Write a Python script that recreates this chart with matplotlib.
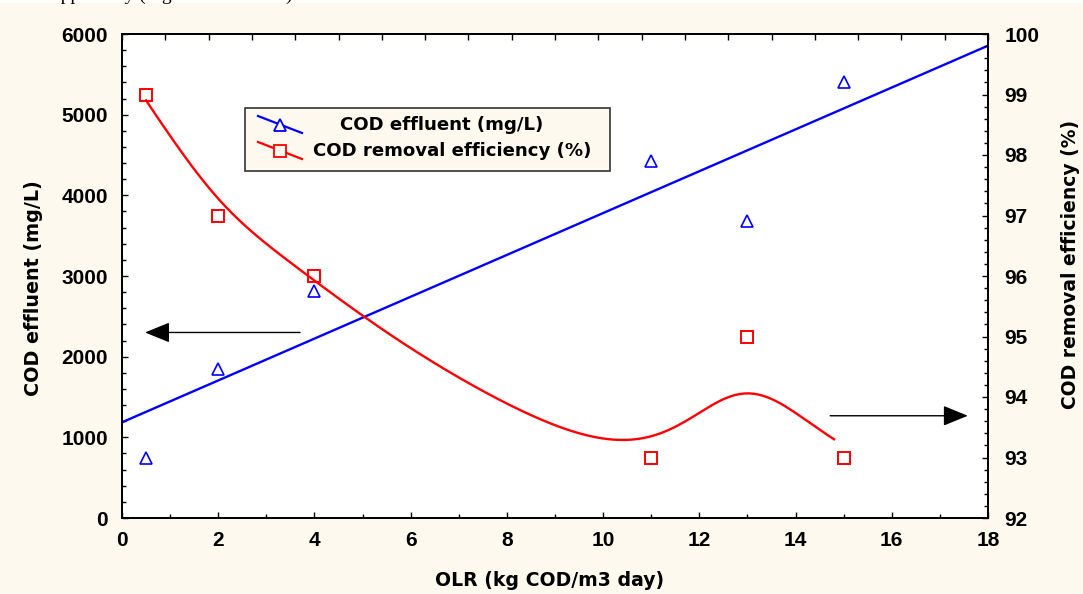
import numpy as np
import matplotlib
matplotlib.use("Agg")
import matplotlib.pyplot as plt
from matplotlib.patches import Rectangle
from matplotlib.lines import Line2D
from matplotlib.ticker import MultipleLocator

# Organic loading rate (kg COD/m3 day)
olr = [0.5, 2, 4, 11, 13, 15]
# Effluent COD (mg/L), left axis
cod_effluent = [750, 1850, 2820, 4420, 3680, 5400]
# COD removal efficiency (%), right axis
removal_eff = [99, 97, 96, 93, 95, 93]

x_ticks = [0, 2, 4, 6, 8, 10, 12, 14, 16, 18]
left_ticks = [0, 1000, 2000, 3000, 4000, 5000, 6000]
right_ticks = [92, 93, 94, 95, 96, 97, 98, 99, 100]

BG = "#fef9ee"
W, H = 1083, 594
LABEL_FONT = ["DejaVu Sans"]

plt.rcParams["font.family"] = ["Liberation Sans", "DejaVu Sans"]
plt.rcParams["font.weight"] = "bold"

fig = plt.figure(figsize=(W / 100, H / 100), dpi=100, facecolor=BG)


def px(x, y):
    """Pixel position (from top-left) to figure fraction."""
    return x / W, 1 - y / H


def dwls(xs, ys, xq, eps=3.0):
    """Distance-weighted least squares: local quadratic at each query point."""
    xs = np.asarray(xs, float)
    ys = np.asarray(ys, float)
    out = []
    for q in xq:
        d = xs - q
        w = np.sqrt(1.0 / (d ** 2 + eps))
        A = np.vander(d, 3) * w[:, None]
        coef, *_ = np.linalg.lstsq(A, ys * w, rcond=None)
        out.append(coef[-1])
    return np.array(out)


# thin white strip with the clipped line of page text above the chart
fig.patches.append(Rectangle((0, 1 - 3 / H), 1, 3 / H, transform=fig.transFigure,
                             facecolor="white", edgecolor="none", zorder=0))
fig.text(*px(52, 0), "apparently (Fig. 5 and Table 3).", family="Liberation Serif",
         fontweight="normal", fontsize=14, va="baseline", ha="left", color="black")

ax = fig.add_axes([122 / W, 76 / H, 866 / W, 484 / H])
ax.set_facecolor("white")
ax2 = ax.twinx()

x = np.asarray(olr, dtype=float)

# linear trend of effluent COD
b = np.polyfit(x, cod_effluent, 1)
xl = np.linspace(0, 18, 100)
ax.plot(xl, np.polyval(b, xl), color="blue", lw=1.7, zorder=2)
ax.plot(x, cod_effluent, linestyle="none", marker="^", ms=8.5, mfc="none",
        mec="blue", mew=1.2, zorder=3)

# smoothed trend of removal efficiency
xr = np.linspace(x.min(), 14.8, 300)
ax2.plot(xr, dwls(x, removal_eff, xr), color="red", lw=1.7, zorder=2)
ax2.plot(x, removal_eff, linestyle="none", marker="s", ms=8.5, mfc="none",
         mec="red", mew=1.4, zorder=3)

ax.set_xlim(0, 18)
ax.set_ylim(0, 6000)
ax2.set_ylim(92, 100)
ax.set_xticks(x_ticks)
ax.set_yticks(left_ticks)
ax2.set_yticks(right_ticks)
ax.xaxis.set_minor_locator(MultipleLocator(1))
ax.yaxis.set_minor_locator(MultipleLocator(200))
ax2.yaxis.set_minor_locator(MultipleLocator(0.2))

for a in (ax, ax2):
    for s in a.spines.values():
        s.set_linewidth(1.3)
    a.tick_params(which="both", direction="in", width=1.0, labelsize=15)
    a.tick_params(which="major", length=4)
    a.tick_params(which="minor", length=3)
ax.tick_params(axis="x", pad=9)
ax.tick_params(axis="y", pad=10)
ax2.tick_params(axis="y", pad=12)

# top frame carries its own evenly spaced, unlabelled tick marks
top = ax.secondary_xaxis("top", functions=(lambda v: v * 20 / 18, lambda v: v * 18 / 20))
top.set_xticks(np.arange(0, 21))
top.tick_params(direction="in", length=4, width=1.0, labeltop=False)
top.spines["top"].set_linewidth(1.3)

fig.text(*px(34, 288), "COD effluent (mg/L)", rotation=90, ha="center",
         va="center", fontsize=13.8, family=LABEL_FONT)
fig.text(*px(1070, 264), "COD removal efficiency (%)", rotation=90, ha="center",
         va="center", fontsize=13.5, family=LABEL_FONT)
fig.text(*px(550, 580), "OLR (kg COD/m3 day)", ha="center", va="center",
         fontsize=13.6, family=LABEL_FONT)

# direction arrows pointing to each axis
arrow_kw = dict(arrowstyle="-|>,head_length=1.1,head_width=0.45", color="black",
                lw=1.0, shrinkA=0, shrinkB=0, mutation_scale=14)
ax.annotate("", xy=(0.48, 2300), xytext=(3.7, 2300), arrowprops=arrow_kw, zorder=4)
ax2.annotate("", xy=(17.58, 93.69), xytext=(14.72, 93.69), arrowprops=arrow_kw,
             zorder=4)

# legend with sloped sample lines
x0, y0 = px(245, 171)
x1, y1 = px(610, 108)
fig.patches.append(Rectangle((x0, y0), x1 - x0, y1 - y0, transform=fig.transFigure,
                             facecolor=BG, edgecolor="#333333", lw=1.2, zorder=5))
for (ya, yb), col, mk, label, tx in [((116, 133), "blue", "^", "COD effluent (mg/L)", 340),
                                     ((142, 159), "red", "s", "COD removal efficiency (%)", 313)]:
    (lx0, ly0), (lx1, ly1) = px(258, ya), px(302, yb)
    fig.lines.append(Line2D([lx0, lx1], [ly0, ly1], transform=fig.transFigure,
                            color=col, lw=1.6, zorder=6))
    mx, my = px(280, (ya + yb) / 2)
    fig.lines.append(Line2D([mx], [my], transform=fig.transFigure, marker=mk,
                            ms=8.5, mfc=BG, mec=col, mew=1.3, linestyle="none",
                            zorder=7))
    tx_, ty_ = px(tx, (ya + yb) / 2 + 1)
    fig.text(tx_, ty_, label, ha="left", va="center", fontsize=13.1,
             family=LABEL_FONT, zorder=7)

fig.savefig("out.png", dpi=100, facecolor=BG)
